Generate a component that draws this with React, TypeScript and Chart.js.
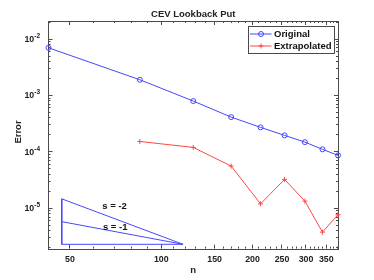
import React, { useEffect, useRef } from 'react';
import { Chart, registerables } from 'chart.js';
Chart.register(...registerables);

// ---- data ----
const nValues = [42.5, 85, 127.5, 170, 212.5, 255, 297.5, 340, 382.5];
const originalErr = [7.0e-3, 1.9e-3, 7.96e-4, 4.14e-4, 2.72e-4, 1.96e-4, 1.49e-4, 1.11e-4, 8.67e-5];
const extrapolatedErr = [null, 1.53e-4, 1.2e-4, 5.6e-5, 1.2e-5, 3.25e-5, 1.34e-5, 3.78e-6, 7.7e-6];
const triangleN = [47, 47, 118, 47];
const triangleS2 = [1.47e-5, 2.3e-6, 2.3e-6, 1.47e-5];
const slope1N = [47, 118];
const slope1Err = [5.8e-6, 2.3e-6];
const slopeLabels = ['s = -2', 's = -1'];
const slopeLabelN = [70.2, 70.5];
const slopeLabelErr = [1.08e-5, 4.6e-6];
const xTickLabels = [50, 100, 150, 200, 250, 300, 350];
const yTickExponents = [-5, -4, -3, -2];
const xRange = [42.5, 382.5];
const yRange = [1.93e-6, 2.09e-2];
const titleText = 'CEV Lookback Put';
const xLabel = 'n';
const yLabel = 'Error';
const legendLabels = ['Original', 'Extrapolated'];

const FONT = '"Liberation Sans", Arial, Helvetica, sans-serif';
const BLUE = 'rgb(70,70,255)';
const RED = 'rgb(255,70,70)';
const AXIS = '#4a4a4a';

const axesPlugin = {
  id: 'matlabAxes',
  beforeDatasetsDraw(chart: any) {
    const { ctx, chartArea: a, scales } = chart;
    const x = scales.x, y = scales.y;
    ctx.save();
    ctx.strokeStyle = AXIS;
    ctx.lineWidth = 1;
    const r = (v: number) => Math.round(v - 0.5) + 0.5;
    ctx.strokeRect(r(a.left), r(a.top), Math.round(a.right - a.left), Math.round(a.bottom - a.top));
    ctx.beginPath();
    // x ticks every 10
    for (let v = 50; v <= xRange[1]; v += 10) {
      const major = xTickLabels.includes(v);
      const len = major ? 4 : 2;
      const px = r(x.getPixelForValue(v));
      ctx.moveTo(px, a.bottom); ctx.lineTo(px, a.bottom - len);
      ctx.moveTo(px, a.top); ctx.lineTo(px, a.top + len);
    }
    // y ticks
    for (let k = -6; k <= -1; k++) {
      for (let m = 1; m <= 9; m++) {
        const v = m * Math.pow(10, k);
        if (v < yRange[0] || v > yRange[1]) continue;
        const len = m === 1 ? 4 : 2;
        const py = r(y.getPixelForValue(v));
        ctx.moveTo(a.left, py); ctx.lineTo(a.left + len, py);
        ctx.moveTo(a.right, py); ctx.lineTo(a.right - len, py);
      }
    }
    ctx.stroke();

    ctx.fillStyle = '#222';
    // x tick labels
    ctx.font = `bold 8.8px ${FONT}`;
    ctx.textAlign = 'center';
    ctx.textBaseline = 'middle';
    xTickLabels.forEach((v) => {
      ctx.fillText(String(v), x.getPixelForValue(v), a.bottom + 10.5);
    });
    // y tick labels with superscript
    yTickExponents.forEach((e) => {
      const py = y.getPixelForValue(Math.pow(10, e));
      ctx.font = `bold 6.5px ${FONT}`;
      const sup = String(e);
      const supW = ctx.measureText(sup).width;
      const right = a.left - 8.5;
      ctx.textAlign = 'right';
      ctx.fillText(sup, right, py - 3);
      ctx.font = `bold 8.8px ${FONT}`;
      ctx.fillText('10', right - supW, py + 0.5);
    });
    // title
    ctx.font = `bold 9.5px ${FONT}`;
    ctx.textAlign = 'center';
    ctx.fillText(titleText, (a.left + a.right) / 2, 14);
    // x label
    ctx.fillText(xLabel, (a.left + a.right) / 2, 270.5);
    // y label
    ctx.save();
    ctx.translate(18.5, 132);
    ctx.rotate(-Math.PI / 2);
    ctx.fillText(yLabel, 0, 0);
    ctx.restore();
    ctx.restore();
  },
  afterDatasetsDraw(chart: any) {
    const { ctx, chartArea: a, scales } = chart;
    const x = scales.x, y = scales.y;
    ctx.save();
    ctx.fillStyle = '#111';
    ctx.font = `bold 9.5px ${FONT}`;
    ctx.textAlign = 'center';
    ctx.textBaseline = 'middle';
    slopeLabels.forEach((t, i) => {
      ctx.fillText(t, x.getPixelForValue(slopeLabelN[i]), y.getPixelForValue(slopeLabelErr[i]));
    });
    // legend
    const lw = 85.5, lh = 26.5;
    const lx = Math.round(a.right - 4.5 - lw) + 0.5;
    const ly = Math.round(a.top + 4.5) + 0.5;
    ctx.fillStyle = '#fff';
    ctx.fillRect(lx, ly, lw, lh);
    ctx.strokeStyle = AXIS;
    ctx.lineWidth = 1;
    ctx.strokeRect(lx, ly, Math.round(lw), Math.round(lh));
    const rows = [ly + 7.5, ly + 19.5];
    const colors = [BLUE, RED];
    rows.forEach((ry, i) => {
      ctx.strokeStyle = colors[i];
      ctx.beginPath();
      ctx.moveTo(lx + 1.5, ry); ctx.lineTo(lx + 23, ry);
      ctx.stroke();
      const cx = lx + 12.5;
      ctx.beginPath();
      if (i === 0) {
        ctx.arc(cx, ry, 2.5, 0, Math.PI * 2);
      } else {
        ctx.moveTo(cx - 2.5, ry); ctx.lineTo(cx + 2.5, ry);
        ctx.moveTo(cx, ry - 2.5); ctx.lineTo(cx, ry + 2.5);
      }
      ctx.stroke();
      ctx.fillStyle = '#111';
      ctx.textAlign = 'left';
      ctx.fillText(legendLabels[i], lx + 25.5, ry + 0.5);
    });
    ctx.restore();
  },
};

export default function App() {
  const ref = useRef<HTMLCanvasElement>(null);
  useEffect(() => {
    if (!ref.current) return;
    const pts = (xs: number[], ys: (number | null)[]) =>
      xs.map((v, i) => ({ x: v, y: ys[i] })).filter((p) => p.y !== null);
    const chart = new Chart(ref.current, {
      type: 'line',
      data: {
        datasets: [
          {
            label: legendLabels[0],
            data: pts(nValues, originalErr) as any,
            borderColor: BLUE,
            backgroundColor: 'transparent',
            borderWidth: 1,
            pointStyle: 'circle',
            pointRadius: 2.5,
            pointBorderWidth: 1,
            pointBorderColor: BLUE,
            pointBackgroundColor: 'transparent',
            clip: false as any,
          },
          {
            label: legendLabels[1],
            data: pts(nValues, extrapolatedErr) as any,
            borderColor: RED,
            backgroundColor: 'transparent',
            borderWidth: 1,
            pointStyle: 'cross',
            pointRadius: 2.5,
            pointBorderWidth: 1,
            pointBorderColor: RED,
            clip: false as any,
          },
          {
            label: 'tri2',
            data: pts(triangleN, triangleS2) as any,
            borderColor: BLUE,
            borderWidth: 1,
            pointRadius: 0,
            clip: false as any,
          },
          {
            label: 'tri1',
            data: pts(slope1N, slope1Err) as any,
            borderColor: BLUE,
            borderWidth: 1,
            pointRadius: 0,
            clip: false as any,
          },
        ],
      },
      options: {
        responsive: false,
        animation: false,
        layout: { padding: { left: 48.5, right: 36, top: 21, bottom: 31.4 } },
        plugins: { legend: { display: false }, tooltip: { enabled: false }, title: { display: false } },
        scales: {
          x: { type: 'logarithmic', display: false, min: xRange[0], max: xRange[1] },
          y: { type: 'logarithmic', display: false, min: yRange[0], max: yRange[1] },
        },
      },
      plugins: [axesPlugin],
    });
    return () => chart.destroy();
  }, []);
  return (
    <div style={{ position: 'fixed', left: 0, top: 0, width: 374, height: 280, background: '#fff' }}>
      <canvas ref={ref} width={374} height={280} style={{ width: 374, height: 280 }} />
    </div>
  );
}
